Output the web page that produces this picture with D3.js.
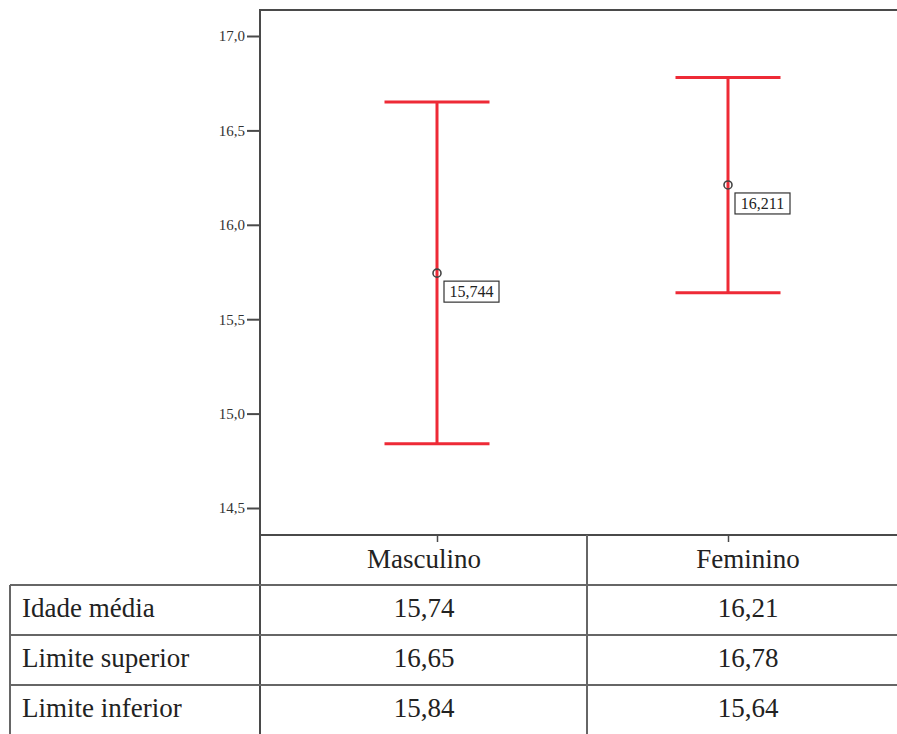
<!DOCTYPE html>
<html><head><meta charset="utf-8">
<script src="https://cdn.jsdelivr.net/npm/d3@7/dist/d3.min.js"></script>
</head><body style="margin:0"><svg id="c" width="897" height="734" font-family="Liberation Serif, Tinos, Times New Roman, serif"></svg>
<script>
const categories = ["Masculino", "Feminino"];
const means = [15.744, 16.211];
const upper = [16.65, 16.78];
const lower = [14.84, 15.64];
const yTicks = [14.5, 15.0, 15.5, 16.0, 16.5, 17.0];
const rowLabels = ["Idade média", "Limite superior", "Limite inferior"];
const tableValues = [["15,74", "16,21"], ["16,65", "16,78"], ["15,84", "15,64"]];

const svg = d3.select("#c");
const fmt = v => d3.format(".1f")(v).replace(".", ",");
const fmt3 = v => d3.format(".3f")(v).replace(".", ",");
function serif(sel, size) {
  return sel.attr("font-family", "Liberation Serif, Tinos, serif")
    .style("font-family", `"Liberation Serif"`)
    .style("font-size", `${size}px`);
}

const L = 260, T = 10, R = 897, B = 535;
const y = d3.scaleLinear().domain([14.5, 17.0]).range([508, 36]);
const x = d3.scalePoint().domain(categories).range([437, 728]);
const red = "#ee2a36";
const axisCol = "#4a4a4a";

// frame
svg.append("line").attr("x1", L).attr("x2", R).attr("y1", T).attr("y2", T).attr("stroke", axisCol).attr("stroke-width", 2);

// y axis
const ya = svg.append("g").attr("transform", `translate(${L},0)`)
  .call(d3.axisLeft(y).tickValues(yTicks).tickSize(13).tickPadding(2).tickFormat(fmt));
ya.attr("font-family", null).attr("font-size", null);
ya.select(".domain").remove();
ya.selectAll(".tick line").attr("stroke", axisCol).attr("stroke-width", 2);
serif(ya.selectAll(".tick text"), 15).attr("fill", "#333").attr("dy", "0.33em");
svg.append("line").attr("x1", L).attr("x2", L).attr("y1", T - 1).attr("y2", 734).attr("stroke", axisCol).attr("stroke-width", 2);

// x axis
const xa = svg.append("g").attr("transform", `translate(0,${B})`)
  .call(d3.axisBottom(x).tickSize(7).tickFormat(""));
xa.select(".domain").remove();
xa.selectAll(".tick line").attr("stroke", axisCol).attr("stroke-width", 1.5);
svg.append("line").attr("x1", L - 1).attr("x2", R).attr("y1", B).attr("y2", B).attr("stroke", axisCol).attr("stroke-width", 2);

// error bars
const capHalf = 52.5;
const g = svg.append("g");
categories.forEach((c, i) => {
  const cx = x(c);
  g.append("line").attr("x1", cx).attr("x2", cx).attr("y1", y(upper[i])).attr("y2", y(lower[i])).attr("stroke", red).attr("stroke-width", 3);
  [upper[i], lower[i]].forEach(v => {
    g.append("line").attr("x1", cx - capHalf).attr("x2", cx + capHalf).attr("y1", y(v)).attr("y2", y(v)).attr("stroke", red).attr("stroke-width", 3);
  });
  g.append("circle").attr("cx", cx).attr("cy", y(means[i])).attr("r", 4).attr("fill", "none").attr("stroke", "#444").attr("stroke-width", 1.6);
  const lx = cx + 7, ly = y(means[i]) + 8;
  g.append("rect").attr("x", lx).attr("y", ly).attr("width", 55).attr("height", 21).attr("fill", "#fff").attr("stroke", "#333").attr("stroke-width", 1.2);
  serif(g.append("text"), 16).attr("x", lx + 27.5).attr("y", ly + 16).attr("text-anchor", "middle").attr("fill", "#222").text(fmt3(means[i]));
});

// table
const colEdges = [L, 587, 909];
const rowEdges = [B, 585, 635, 685, 735];
const colCenters = [424, 748];
const lineCol = "#666";
const tb = svg.append("g");
categories.forEach((c, i) => {
  serif(tb.append("text"), 27).attr("x", colCenters[i]).attr("y", 568).attr("text-anchor", "middle").attr("fill", "#222").text(c);
});
tb.append("line").attr("x1", colEdges[1]).attr("x2", colEdges[1]).attr("y1", B).attr("y2", 734).attr("stroke", lineCol).attr("stroke-width", 2);
[585, 635, 685].forEach(yy => {
  tb.append("line").attr("x1", 10).attr("x2", R).attr("y1", yy).attr("y2", yy).attr("stroke", lineCol).attr("stroke-width", 2);
});
tb.append("line").attr("x1", 10).attr("x2", 10).attr("y1", 585).attr("y2", 734).attr("stroke", lineCol).attr("stroke-width", 2);
rowLabels.forEach((r, j) => {
  const yy = rowEdges[j + 1] + 32;
  serif(tb.append("text"), 27).attr("x", 22).attr("y", yy).attr("fill", "#222").text(r);
  tableValues[j].forEach((v, i) => {
    serif(tb.append("text"), 27).attr("x", colCenters[i]).attr("y", yy).attr("text-anchor", "middle").attr("fill", "#222").text(v);
  });
});
</script></body></html>
